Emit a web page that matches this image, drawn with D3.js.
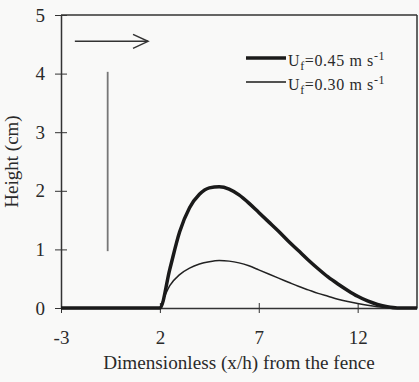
<!DOCTYPE html>
<html><head><meta charset="utf-8">
<script src="https://cdn.jsdelivr.net/npm/d3@7"></script>
<style>
html,body{margin:0;padding:0;background:#f9f9f8;}
svg{display:block;}
text{font-family:"Liberation Serif","Times New Roman",serif;fill:#2a2a2a;}
</style></head>
<body>
<svg id="chart" width="419" height="382"></svg>
<script>
// Data
const xTicks = [-3, 2, 7, 12];
const yTicks = [0, 1, 2, 3, 4, 5];
const seriesNames = ["Uf=0.45", "Uf=0.30"];
const thickX = [-3, 2, 2.5, 3, 3.5, 4, 4.5, 5, 5.5, 6, 6.5, 7, 7.5, 8, 8.5, 9, 9.5, 10, 10.5, 11, 11.5, 12, 12.5, 13, 13.5, 14, 15];
const thickY = [0, 0, 0.66, 1.3, 1.71, 1.94, 2.05, 2.07, 2.03, 1.93, 1.79, 1.63, 1.47, 1.31, 1.14, 0.98, 0.82, 0.67, 0.53, 0.41, 0.30, 0.20, 0.12, 0.06, 0.02, 0, 0];
const thinX = [2, 2.5, 3, 3.5, 4, 4.5, 5, 5.5, 6, 6.5, 7, 7.5, 8, 8.5, 9, 9.5, 10, 10.5, 11, 11.5, 12, 12.5, 13, 13.5, 14];
const thinY = [0, 0.38, 0.57, 0.68, 0.75, 0.79, 0.81, 0.80, 0.77, 0.72, 0.65, 0.58, 0.51, 0.44, 0.37, 0.31, 0.25, 0.20, 0.15, 0.11, 0.075, 0.045, 0.022, 0.007, 0];
// annotations (data coords)
const arrowX = [-2.3, 1.4];
const arrowY = 4.55;
const barX = -0.64;
const barY = [0.97, 4.03];

const svg = d3.select("#chart");
const m = {l: 61, r: 2, t: 15, b: 74};
const W = 419, H = 382;
const x = d3.scaleLinear().domain([-3, 15]).range([m.l, W - m.r]);
const y = d3.scaleLinear().domain([0, 5]).range([H - m.b, m.t]);
const frame = "#333";
const fmt = d => String(d);

// frame top & right
svg.append("line").attr("x1", x(-3)).attr("x2", x(15)).attr("y1", y(5)).attr("y2", y(5)).attr("stroke", frame).attr("stroke-width", 1.5);
svg.append("line").attr("x1", x(15)).attr("x2", x(15)).attr("y1", y(5)).attr("y2", y(0)).attr("stroke", frame).attr("stroke-width", 1.5);

// axes
const xAxis = d3.axisBottom(x).tickValues(xTicks).tickFormat(fmt).tickSize(5).tickSizeOuter(0).tickPadding(18);
const gx = svg.append("g").attr("transform", `translate(0,${y(0)})`).call(xAxis);
gx.select(".domain").attr("stroke", frame).attr("stroke-width", 1.3);
gx.selectAll(".tick line").attr("stroke", frame).attr("y1", -5).attr("y2", 5);
gx.selectAll(".tick text").attr("font-size", 19).attr("font-family", "Liberation Serif").attr("fill", "#2a2a2a");

const yAxis = d3.axisLeft(y).tickValues(yTicks).tickFormat(fmt).tickSize(6).tickSizeOuter(0).tickPadding(10);
const gy = svg.append("g").attr("transform", `translate(${x(-3)},0)`).call(yAxis);
gy.select(".domain").attr("stroke", frame).attr("stroke-width", 1.5);
gy.selectAll(".tick line").attr("stroke", frame).attr("x1", 6).attr("x2", -6);
gy.selectAll(".tick text").attr("font-size", 19).attr("font-family", "Liberation Serif").attr("fill", "#2a2a2a");

// axis titles
svg.append("text").attr("x", (x(-3) + x(15)) / 2).attr("y", 369).attr("text-anchor", "middle").attr("font-size", 19.2).text("Dimensionless (x/h) from the fence");
svg.append("text").attr("transform", `translate(18,${(y(0) + y(5)) / 2}) rotate(-90)`).attr("text-anchor", "middle").attr("font-size", 19).text("Height  (cm)");

// curves
const line = d3.line().x(d => x(d[0])).y(d => y(d[1])).curve(d3.curveMonotoneX);
const thick = thickX.map((v, i) => [v, thickY[i]]);
const thin = thinX.map((v, i) => [v, thinY[i]]);
svg.append("path").attr("d", line(thin)).attr("fill", "none").attr("stroke", "#222").attr("stroke-width", 1.5);
svg.append("path").attr("d", line(thick)).attr("fill", "none").attr("stroke", "#1a1a1a").attr("stroke-width", 3.5).attr("stroke-linejoin", "round");

// arrow
const ay = y(arrowY);
svg.append("line").attr("x1", x(arrowX[0])).attr("x2", x(arrowX[1])).attr("y1", ay).attr("y2", ay).attr("stroke", "#333").attr("stroke-width", 1.5);
svg.append("path").attr("d", `M${x(arrowX[1]) - 15},${ay - 7} L${x(arrowX[1])},${ay} L${x(arrowX[1]) - 15},${ay + 7}`).attr("fill", "none").attr("stroke", "#333").attr("stroke-width", 1.5);
// vertical bar
svg.append("line").attr("x1", x(barX)).attr("x2", x(barX)).attr("y1", y(barY[0])).attr("y2", y(barY[1])).attr("stroke", "#777").attr("stroke-width", 1.8);

// legend
const leg = svg.append("g");
const widths = [3.5, 1.5];
seriesNames.forEach((s, i) => {
  const ly = 58 + i * 24;
  leg.append("line").attr("x1", 246).attr("x2", 286).attr("y1", ly).attr("y2", ly).attr("stroke", "#1a1a1a").attr("stroke-width", widths[i]);
  const t = leg.append("text").attr("x", 288).attr("y", ly + 8).attr("font-size", 16).attr("letter-spacing", 0.6).attr("font-family", "DejaVu Serif, Liberation Serif").attr("fill", "#333");
  t.append("tspan").text("U");
  t.append("tspan").attr("font-size", 12).attr("dy", 4).text("f");
  t.append("tspan").attr("dy", -4).text("=" + s.split("=")[1] + " m s");
  t.append("tspan").attr("font-size", 12).attr("dy", -6).text("-1");
});
</script>
</body></html>
